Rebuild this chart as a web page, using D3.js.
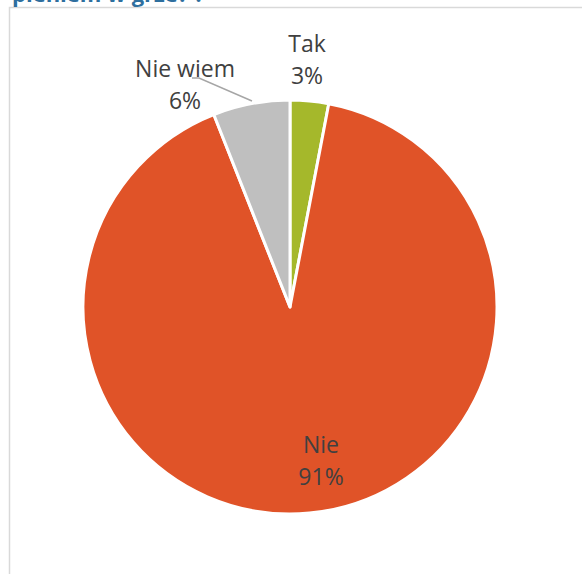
<!DOCTYPE html>
<html><head><meta charset="utf-8">
<script src="https://cdn.jsdelivr.net/npm/d3@7"></script>
<style>html,body{margin:0;padding:0;background:#fff;}</style>
</head><body>
<svg id="c" width="582" height="574"></svg>
<script>
const categories = ["Tak", "Nie", "Nie wiem"];
const values = [3, 91, 6];
const colors = ["#A5B82B", "#E05328", "#BFBFBF"];
const labelText = ["3%", "91%", "6%"];

const svg = d3.select("#c");
// frame
svg.append("path").attr("d", "M9.5,574 L9.5,7.5 L582,7.5").attr("fill", "none").attr("stroke", "#D9D9D9").attr("stroke-width", 1.5);
// cropped title
svg.append("text").attr("x", 12).attr("y", 2).attr("font-family", "Open Sans, sans-serif").attr("font-weight", "bold").attr("font-size", 22).attr("fill", "#2E6F9E").text("pieniem w grze? ?");

const cx = 290, cy = 307, r = 207;
const g = svg.append("g").attr("transform", `translate(${cx},${cy})`);
const pie = d3.pie().sort(null).value(d => d)(values);
const arc = d3.arc().innerRadius(0).outerRadius(r);
g.selectAll("path.s").data(pie).enter().append("path")
  .attr("d", arc).attr("fill", (d, i) => colors[i])
  .attr("stroke", "#fff").attr("stroke-width", 3).attr("stroke-linejoin", "round");

// label positions (from picture, relative to centre)
const labelPos = [[17, -255], [31, 146], [-105, -230]];
// leader line for Nie wiem
svg.append("polyline").attr("points", "192,78 199,78 252,101").attr("fill", "none").attr("stroke", "#A6A6A6").attr("stroke-width", 1.5);

categories.forEach((c, i) => {
  const t = g.append("text").attr("text-anchor", "middle")
    .attr("font-family", "Open Sans, sans-serif").attr("font-size", 23).attr("fill", "#404040");
  t.append("tspan").attr("x", labelPos[i][0]).attr("y", labelPos[i][1]).text(c);
  t.append("tspan").attr("x", labelPos[i][0]).attr("y", labelPos[i][1] + 32).text(labelText[i]);
});
</script>
</body></html>
